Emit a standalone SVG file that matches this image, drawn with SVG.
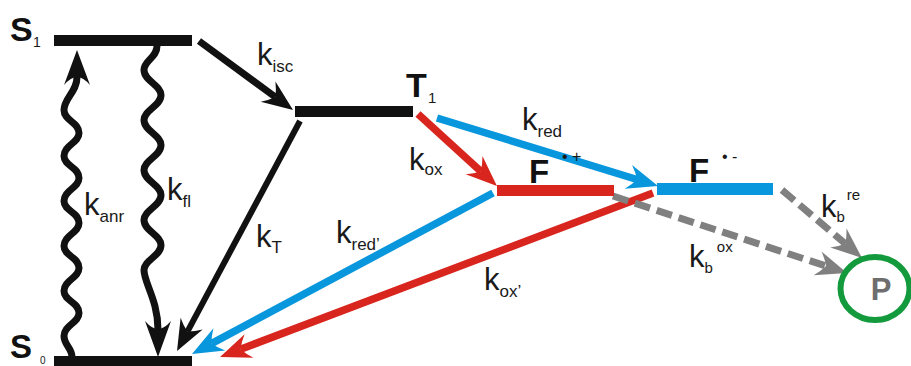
<svg xmlns="http://www.w3.org/2000/svg" width="911" height="366" viewBox="0 0 911 366">
<style>
.lbl{font-family:"Liberation Sans",Arial,sans-serif;fill:#1a1a1a}
.k{font-size:31px}
.sub{font-size:17px}
.sup{font-size:15px}
.state{font-family:"Liberation Sans",Arial,sans-serif;font-weight:bold;fill:#111}
.ln{fill:none;stroke-linecap:butt}
.blk{stroke:#111}
.red{stroke:#d8261e}
.blu{stroke:#0896dc}
.gry{stroke:#808080;stroke-dasharray:16 7}
</style>
<defs>
<path id="head" d="M22,0 L-9,-12.5 Q-3,-6 0,0 Q-3,6 -9,12.5 Z"/>
<marker id="mBlk" markerUnits="userSpaceOnUse" orient="auto" refX="0" refY="0" markerWidth="1" markerHeight="1" overflow="visible"><use href="#head" fill="#111"/></marker>
<marker id="mRed" markerUnits="userSpaceOnUse" orient="auto" refX="0" refY="0" markerWidth="1" markerHeight="1" overflow="visible"><use href="#head" fill="#d8261e"/></marker>
<marker id="mBlu" markerUnits="userSpaceOnUse" orient="auto" refX="0" refY="0" markerWidth="1" markerHeight="1" overflow="visible"><use href="#head" fill="#0896dc"/></marker>
<marker id="mGry" markerUnits="userSpaceOnUse" orient="auto" refX="0" refY="0" markerWidth="1" markerHeight="1" overflow="visible"><use href="#head" fill="#808080"/></marker>
</defs>
<rect width="911" height="366" fill="#fff"/>

<g id="connectors">
  <!-- k_anr wavy, upward -->
  <path class="ln blk" stroke-width="7" d="M72,357 C72,348 64,345 64,336 C64,325 79,323 79,313 C79,302 64,301 64,291 C64,280 79,278 79,268 C79,257 64,256 64,246 C64,235 79,233 79,223 C79,212 64,211 64,201 C64,190 79,188 79,178 C79,167 64,166 64,156 C64,145 79,143 79,133 C79,122 64,121 64,110 C64,98 77,92 77,77"/>
  <path fill="#111" d="M77,50 L90,85 Q83,77 77,77 Q71,77 64,85 Z"/>
  <!-- k_fl wavy, downward -->
  <path class="ln blk" stroke-width="7" d="M157,46 C157,58 144,60 144,70 C144,81 161,85 161,95 C161,106 144,110 144,120 C144,131 161,135 161,145 C161,156 144,160 144,170 C144,181 161,185 161,195 C161,206 144,210 144,220 C144,231 161,235 161,245 C161,256 144,260 144,270 C144,283 158,300 158,330"/>
  <path fill="#111" d="M158,357 L145,321 Q152,329 158,329 Q164,329 171,321 Z"/>
  <!-- k_isc -->
  <line class="ln blk" stroke-width="7" x1="199" y1="41" x2="275.3" y2="97" marker-end="url(#mBlk)"/>
  <!-- k_T -->
  <line class="ln blk" stroke-width="6" x1="300" y1="121" x2="187.4" y2="331.6" marker-end="url(#mBlk)"/>
  <!-- k_ox -->
  <line class="ln red" stroke-width="7.5" x1="418" y1="114" x2="480.7" y2="171.2" marker-end="url(#mRed)"/>
  <!-- k_red -->
  <line class="ln blu" stroke-width="7.5" x1="437" y1="118" x2="637" y2="179.5" marker-end="url(#mBlu)"/>
  <!-- k_red' -->
  <line class="ln blu" stroke-width="7.5" x1="493" y1="193" x2="211.4" y2="343.6" marker-end="url(#mBlu)"/>
  <!-- k_ox' -->
  <line class="ln red" stroke-width="7.5" x1="653" y1="193" x2="240.6" y2="349.2" marker-end="url(#mRed)"/>
  <!-- k_b^ox -->
  <line class="ln gry" stroke-width="7" x1="613" y1="196" x2="826.1" y2="266.1" marker-end="url(#mGry)"/>
  <!-- k_b^re -->
  <line class="ln gry" stroke-width="7" x1="782" y1="190" x2="845.2" y2="243.7" marker-end="url(#mGry)"/>
</g>

<g id="S1">
  <rect x="54" y="35" width="138" height="11" fill="#111"/>
  <text class="state" x="10" y="41" font-size="34">S</text>
  <text class="lbl" x="33" y="47" font-size="14">1</text>
</g>
<g id="S0">
  <rect x="54" y="356" width="138" height="11" fill="#111"/>
  <text class="state" x="10" y="358" font-size="33">S</text>
  <text class="lbl" x="40" y="364" font-size="10">0</text>
</g>
<g id="T1">
  <rect x="295" y="106" width="118" height="11" fill="#111"/>
  <text class="state" x="406" y="97" font-size="34">T</text>
  <text class="lbl" x="428" y="103" font-size="15">1</text>
</g>
<g id="Fplus">
  <rect x="497" y="185" width="117" height="11" fill="#d8261e"/>
  <text class="state" x="529" y="183" font-size="33">F</text>
  <text class="lbl" x="562" y="162" font-size="16">• +</text>
</g>
<g id="Fminus">
  <rect x="657" y="183" width="116" height="12" fill="#0896dc"/>
  <text class="state" x="689" y="182" font-size="33">F</text>
  <text class="lbl" x="722" y="162" font-size="16">• -</text>
</g>
<g id="P">
  <ellipse cx="875" cy="288.5" rx="34.5" ry="31.5" fill="none" stroke="#139a3d" stroke-width="6"/>
  <text x="881" y="300" text-anchor="middle" font-family="Liberation Sans,Arial,sans-serif" font-weight="bold" font-size="31" fill="#6e6e6e">P</text>
</g>

<g id="labels">
  <text class="lbl" x="257" y="65"><tspan class="k">k</tspan><tspan class="sub" dy="7">isc</tspan></text>
  <text class="lbl" x="84" y="215"><tspan class="k">k</tspan><tspan class="sub" dy="7">anr</tspan></text>
  <text class="lbl" x="167" y="200"><tspan class="k">k</tspan><tspan class="sub" dy="7">fl</tspan></text>
  <text class="lbl" x="256" y="247"><tspan class="k">k</tspan><tspan class="sub" dy="6">T</tspan></text>
  <text class="lbl" x="409" y="170"><tspan class="k">k</tspan><tspan class="sub" dy="5">ox</tspan></text>
  <text class="lbl" x="522" y="130"><tspan class="k">k</tspan><tspan class="sub" dy="7">red</tspan></text>
  <text class="lbl" x="336" y="243"><tspan class="k">k</tspan><tspan class="sub" dy="7">red’</tspan></text>
  <text class="lbl" x="484" y="290"><tspan class="k">k</tspan><tspan class="sub" dy="7">ox’</tspan></text>
  <text class="lbl" x="689" y="267"><tspan class="k">k</tspan><tspan class="sup" dy="6">b</tspan><tspan class="sup" dx="4" dy="-21">ox</tspan></text>
  <text class="lbl" x="821" y="217"><tspan class="k">k</tspan><tspan class="sup" dy="5">b</tspan><tspan class="sup" dx="2" dy="-22">re</tspan></text>
</g>
</svg>
